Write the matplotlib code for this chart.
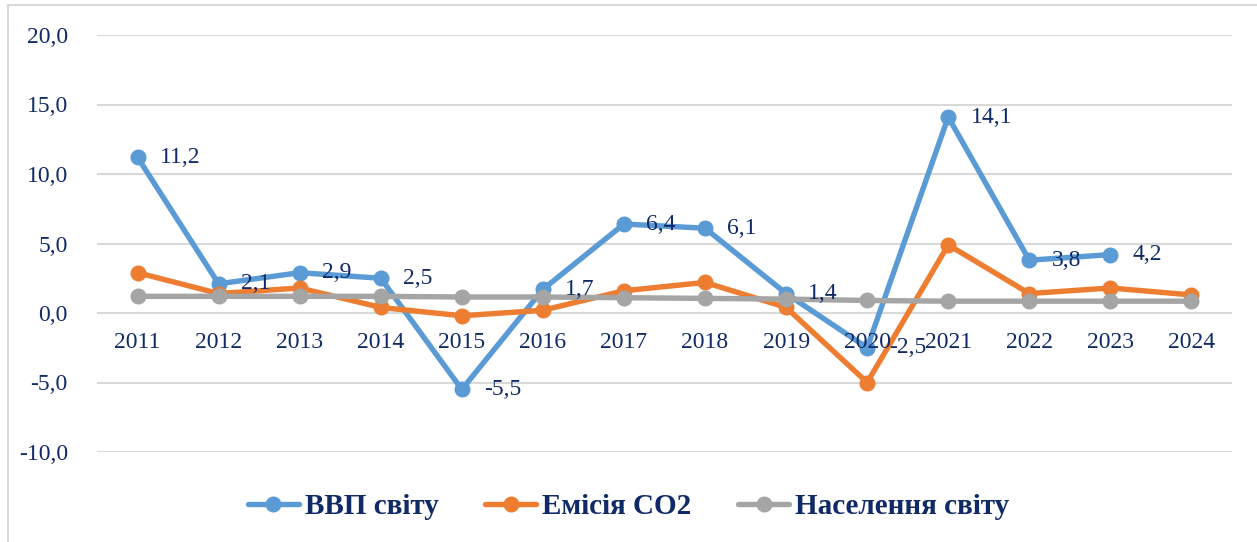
import numpy as np
import matplotlib.pyplot as plt
from matplotlib.lines import Line2D

years = ['2011', '2012', '2013', '2014', '2015', '2016', '2017',
         '2018', '2019', '2020', '2021', '2022', '2023', '2024']
gdp = [11.2, 2.1, 2.9, 2.5, -5.5, 1.7, 6.4, 6.1, 1.4, -2.5, 14.1, 3.8, 4.2, np.nan]
co2 = [2.9, 1.4, 1.8, 0.4, -0.2, 0.2, 1.6, 2.2, 0.4, -5.0, 4.9, 1.4, 1.8, 1.3]
pop = [1.2, 1.2, 1.2, 1.2, 1.15, 1.15, 1.1, 1.05, 1.0, 0.9, 0.85, 0.85, 0.85, 0.85]

labels = ['ВВП світу', 'Емісія CO2', 'Населення світу']
colors = ['#5B9BD5', '#ED7D31', '#A5A5A5']
txt = '#0F2A66'

plt.rcParams['font.family'] = ['Liberation Serif', 'DejaVu Serif']

fig = plt.figure(figsize=(12.57, 5.42), dpi=100)
W, H = 1257, 542
ax = fig.add_axes([97 / W, (H - 452) / H, (1232 - 97) / W, (452 - 35) / H])

x = np.arange(len(years))
for vals, c, lab in zip([gdp, co2, pop], colors, labels):
    ax.plot(x, vals, color=c, lw=3.9, marker='o', ms=10.5, label=lab,
            solid_joinstyle='round', solid_capstyle='round')

# data labels for GDP only
for i, v in enumerate(gdp):
    if np.isnan(v):
        continue
    ax.annotate(f'{v:.1f}'.replace('.', ','), (i, v), xytext=(16, 0),
                textcoords='offset points', ha='left', va='center',
                fontsize=17, color=txt)

# category labels next to the zero line
for i, y in enumerate(years):
    ax.annotate(y, (i, 0), xytext=(0, -21), textcoords='offset points',
                ha='center', va='center', fontsize=17, color=txt)

ax.set_xlim(-0.5, len(years) - 0.5)
ax.set_ylim(-10, 20)
yt = np.arange(-10, 21, 5)
ax.set_yticks(yt)
ax.set_yticklabels([f'{t:.1f}'.replace('.', ',') for t in yt], fontsize=17, color=txt)
ax.set_xticks([])
ax.tick_params(axis='y', length=0, pad=21)
ax.grid(axis='y', color='#D9D9D9', lw=1.5)
ax.set_axisbelow(True)
for s in ax.spines.values():
    s.set_visible(False)

leg = ax.legend(loc='center', bbox_to_anchor=(0.5, 1 - 507 / H), bbox_transform=fig.transFigure,
                ncol=3, frameon=False, handlelength=1.75, handletextpad=0.2,
                columnspacing=1.6, prop={'family': 'Liberation Serif', 'weight': 'bold', 'size': 21})
for t in leg.get_texts():
    t.set_color(txt)

# chart frame edges visible in the crop
fig.add_artist(Line2D([8 / W, 1], [1 - 5 / H, 1 - 5 / H], color='#D9D9D9', lw=1.5, transform=fig.transFigure))
fig.add_artist(Line2D([8 / W, 8 / W], [0, 1 - 5 / H], color='#D9D9D9', lw=1.5, transform=fig.transFigure))

fig.savefig('out.png', dpi=100)
